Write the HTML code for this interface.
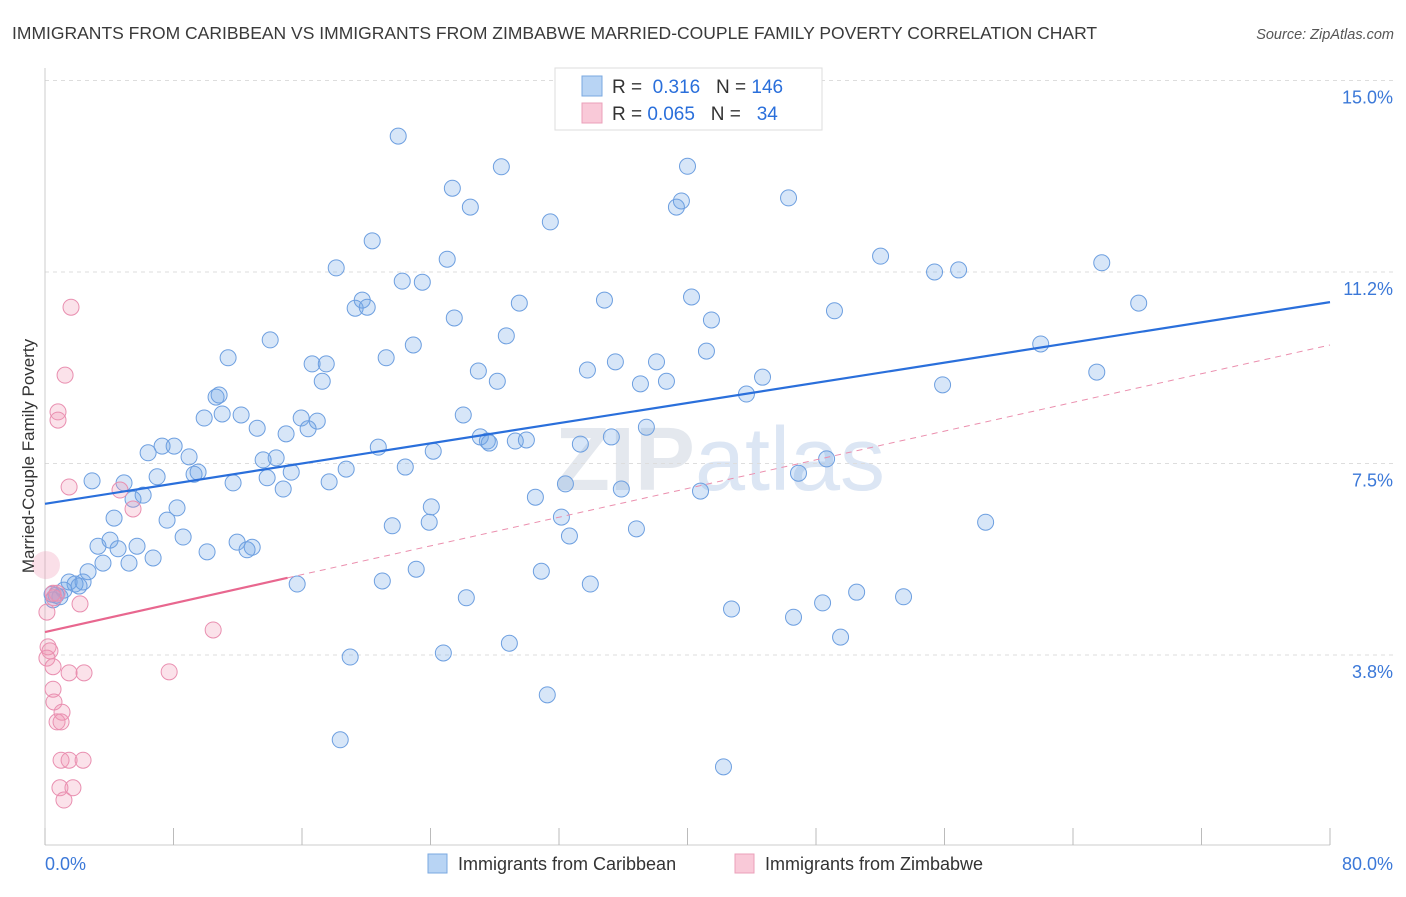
<!DOCTYPE html>
<html><head><meta charset="utf-8"><style>
body{margin:0;background:#fff;font-family:"Liberation Sans",sans-serif;}
svg text{font-family:"Liberation Sans",sans-serif;}
</style></head><body>
<svg id="c" width="1406" height="892" xmlns="http://www.w3.org/2000/svg">
<text x="12" y="39" font-size="17.5" fill="#3a3a3a">IMMIGRANTS FROM CARIBBEAN VS IMMIGRANTS FROM ZIMBABWE MARRIED-COUPLE FAMILY POVERTY CORRELATION CHART</text>
<text x="1394" y="39" font-size="14.5" fill="#555" text-anchor="end" font-style="italic">Source: ZipAtlas.com</text>
<text x="720" y="490" font-size="90" fill="#e4e8ee" text-anchor="middle" font-weight="bold">ZIP<tspan font-weight="normal" fill="#dce6f4">atlas</tspan></text>
<g id="grid"></g><g id="axes"></g><g id="pts"></g><g id="lines"></g>
<text transform="translate(34,456) rotate(-90)" font-size="17" fill="#333" text-anchor="middle">Married-Couple Family Poverty</text>
<g>
<rect x="555" y="68" width="267" height="62" fill="#fff" stroke="#ddd"/>
<rect x="582" y="76" width="20" height="20" fill="#b8d4f4" stroke="#7aa8e0"/>
<rect x="582" y="103" width="20" height="20" fill="#f9c9d8" stroke="#eba0ba"/>
<text x="612" y="93" font-size="19" fill="#333">R = <tspan fill="#2a6fdb">&#160;0.316</tspan>&#160;&#160;&#160;N = <tspan fill="#2a6fdb">146</tspan></text>
<text x="612" y="120" font-size="19" fill="#333">R = <tspan fill="#2a6fdb">0.065</tspan>&#160;&#160;&#160;N = <tspan fill="#2a6fdb">&#160;&#160;34</tspan></text>
</g>
<g>
<rect x="428" y="854" width="19" height="19" fill="#b8d4f4" stroke="#7aa8e0"/>
<text x="458" y="870" font-size="18" fill="#333">Immigrants from Caribbean</text>
<rect x="735" y="854" width="19" height="19" fill="#f9c9d8" stroke="#eba0ba"/>
<text x="765" y="870" font-size="18" fill="#333">Immigrants from Zimbabwe</text>
</g>
</svg>
<script>
const blueX=[21.99,28.41,40.00,25.36,26.48,31.46,39.31,39.62,46.29,20.37,18.13,25.04,22.24,23.49,52.02,55.38,56.88,65.79,19.75,19.31,20.06,29.53,34.83,40.25,25.48,41.49,49.15,68.09,14.02,28.72,22.93,11.40,16.63,17.51,21.24,41.18,35.51,38.07,26.98,33.77,17.26,28.16,37.07,38.69,44.67,61.99,65.48,55.88,10.65,10.84,43.67,9.91,11.03,12.21,13.21,15.95,16.95,16.38,15.01,26.04,37.44,7.29,8.04,6.42,8.97,27.10,27.54,27.66,29.28,29.97,33.33,35.26,20.75,24.17,2.93,4.92,6.98,9.53,9.28,11.71,13.58,14.39,13.83,15.33,14.83,17.69,18.75,22.43,48.66,46.91,40.81,35.88,32.40,30.53,6.11,5.48,4.30,8.22,7.60,24.05,23.92,21.62,32.15,36.82,32.65,58.56,3.30,4.05,4.55,5.73,8.60,6.73,10.09,11.96,12.90,12.58,5.23,3.61,2.68,1.87,1.50,2.37,2.12,1.18,0.93,0.69,0.44,0.50,15.70,21.00,23.11,30.90,33.95,26.23,42.74,46.60,48.41,50.53,53.45,49.53,28.91,24.80,19.00,31.27,18.38,42.24];
const blueY=[13.91,13.31,13.32,12.89,12.52,12.23,12.52,12.64,12.70,11.86,11.33,11.50,11.07,11.05,11.56,11.25,11.29,11.43,10.70,10.54,10.56,10.64,10.70,10.76,10.35,10.31,10.49,10.64,9.92,10.00,9.82,9.57,9.45,9.45,9.57,9.70,9.49,9.49,9.31,9.33,9.11,9.11,9.06,9.11,9.19,9.84,9.29,9.04,8.80,8.84,8.86,8.39,8.47,8.45,8.19,8.39,8.33,8.18,8.08,8.45,8.21,7.84,7.84,7.71,7.63,8.02,7.94,7.90,7.94,7.96,7.88,8.02,7.82,7.74,7.16,7.12,7.24,7.33,7.29,7.12,7.57,7.61,7.22,7.33,7.00,7.14,7.39,7.43,7.59,7.31,6.96,7.00,7.10,6.84,6.88,6.80,6.43,6.63,6.39,6.65,6.35,6.28,6.45,6.22,6.08,6.35,5.88,6.00,5.83,5.88,6.06,5.65,5.77,5.96,5.86,5.81,5.55,5.55,5.38,5.14,5.18,5.18,5.10,5.02,4.89,4.92,4.94,4.83,5.14,5.20,5.43,5.39,5.14,4.87,4.65,4.49,4.77,4.98,4.89,4.10,3.98,3.79,3.71,2.97,2.09,1.56];
const pinkX=[1.62,1.25,0.81,0.81,1.50,4.67,5.48,0.50,0.75,0.56,2.18,0.12,10.47,0.19,0.31,0.12,0.50,1.50,2.43,7.73,0.50,0.56,1.06,0.75,1.00,1.00,1.50,2.37,0.93,1.74,1.18];
const pinkY=[10.56,9.23,8.51,8.35,7.04,6.98,6.61,4.96,4.96,4.87,4.75,4.59,4.24,3.91,3.83,3.69,3.52,3.40,3.40,3.42,3.08,2.83,2.63,2.44,2.44,1.69,1.69,1.69,1.15,1.15,0.91];
const bigPinkX=[0.06];const bigPinkY=[5.51];
const blueTrend=[6.71,10.66]; // y at x=0 and x=80
const pinkTrend=[4.20,9.82];
const pinkSolidEnd=15.1;
const yTicks=[15.0,11.2,7.5,3.8];
const yTickVals=[15.0,11.25,7.5,3.75];
const xLabels=["0.0%","80.0%"];
const X=v=>45+v*16.0625, Y=v=>655-(v-3.75)*51.07;
const NS="http://www.w3.org/2000/svg";
function mk(tag,attrs,parent){const e=document.createElementNS(NS,tag);for(const k in attrs)e.setAttribute(k,attrs[k]);document.getElementById(parent).appendChild(e);return e;}
yTickVals.forEach((v,i)=>{
 const l=mk('line',{x1:45,x2:1393,y1:Y(v),y2:Y(v),stroke:'#ddd','stroke-dasharray':'4,4'},'grid');
 
 
 const t=mk('text',{x:1393,y:Y(v)+23,'font-size':18,fill:'#3b78d8','text-anchor':'end'},'grid');
 t.textContent=yTicks[i].toFixed(1)+'%';
 
 
});
const ax=mk('line',{x1:45,x2:1330,y1:845,y2:845,stroke:'#ccc'},'axes');


const ay=mk('line',{x1:45,x2:45,y1:68,y2:845,stroke:'#ccc'},'axes');


for(let i=0;i<=10;i++){const t=mk('line',{x1:X(i*8),x2:X(i*8),y1:828,y2:845,stroke:'#bbb'},'axes');
 
 }
const xl0=mk('text',{x:45,y:870,'font-size':18,fill:'#3b78d8'},'axes');xl0.textContent=xLabels[0];


const xl1=mk('text',{x:1393,y:870,'font-size':18,fill:'#3b78d8','text-anchor':'end'},'axes');xl1.textContent=xLabels[1];


blueX.forEach((v,i)=>{const c=mk('circle',{cx:X(v),cy:Y(blueY[i]),r:8,fill:'rgba(110,165,230,0.28)',stroke:'#6d9fe0','stroke-width':1},'pts');
 
 });
pinkX.forEach((v,i)=>{const c=mk('circle',{cx:X(v),cy:Y(pinkY[i]),r:8,fill:'rgba(240,150,180,0.28)',stroke:'#e98fb0','stroke-width':1},'pts');
 
 });
bigPinkX.forEach((v,i)=>{const c=mk('circle',{cx:X(v),cy:Y(bigPinkY[i]),r:14,fill:'rgba(240,150,180,0.3)',stroke:'none'},'pts');
 
 });
const bl=mk('line',{x1:X(0),y1:Y(blueTrend[0]),x2:X(80),y2:Y(blueTrend[1]),stroke:'#2a6fdb','stroke-width':2.2},'lines');


const py=x=>pinkTrend[0]+(pinkTrend[1]-pinkTrend[0])*x/80;
const pd=mk('line',{x1:X(pinkSolidEnd),y1:Y(py(pinkSolidEnd)),x2:X(80),y2:Y(pinkTrend[1]),stroke:'#eb8fae','stroke-width':1,'stroke-dasharray':'6,5'},'lines');


const ps=mk('line',{x1:X(0),y1:Y(pinkTrend[0]),x2:X(pinkSolidEnd),y2:Y(py(pinkSolidEnd)),stroke:'#e8678f','stroke-width':2.2},'lines');


</script>
</body></html>
